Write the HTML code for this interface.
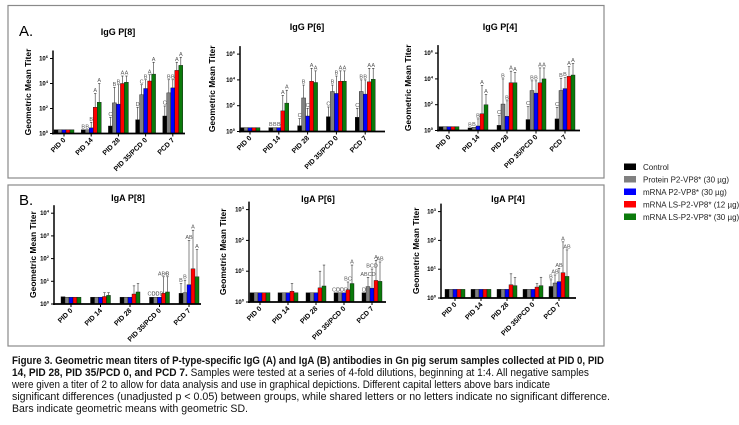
<!DOCTYPE html>
<html><head><meta charset="utf-8">
<style>
html,body{margin:0;padding:0;background:#fff;}
svg{display:block;font-family:"Liberation Sans",sans-serif;}
</style></head>
<body>
<svg id="fig" width="739" height="425" viewBox="0 0 739 425" xmlns="http://www.w3.org/2000/svg">
<rect x="8" y="5.5" width="596" height="172.5" fill="none" stroke="#8a8a8a" stroke-width="1.2"/>
<rect x="8" y="185" width="596" height="161" fill="none" stroke="#8a8a8a" stroke-width="1.2"/>
<text x="19" y="36" font-size="15">A.</text>
<text x="19" y="205" font-size="15">B.</text>
<g id="charts"></g>
<g font-size="8" fill="#222">
<rect x="624" y="163.5" width="12" height="6.5" fill="#000"/>
<text x="643" y="170">Control</text>
<rect x="624" y="176" width="12" height="6.5" fill="#808080"/>
<text x="643" y="182.5">Protein P2-VP8* (30 µg)</text>
<rect x="624" y="188.5" width="12" height="6.5" fill="#0000ff"/>
<text x="643" y="195">mRNA P2-VP8* (30 µg)</text>
<rect x="624" y="201" width="12" height="6.5" fill="#ff0000"/>
<text x="643" y="207.5">mRNA LS-P2-VP8* (12 µg)</text>
<rect x="624" y="213.5" width="12" height="6.5" fill="#0b7a0b"/>
<text x="643" y="220">mRNA LS-P2-VP8* (30 µg)</text>
</g>
<g font-size="11" fill="#111">
<text x="12" y="364" textLength="592" lengthAdjust="spacingAndGlyphs"><tspan font-weight="bold">Figure 3. Geometric mean titers of P-type-specific IgG (A) and IgA (B) antibodies in Gn pig serum samples collected at PID 0, PID</tspan></text>
<text x="12" y="376" textLength="577" lengthAdjust="spacingAndGlyphs"><tspan font-weight="bold">14, PID 28, PID 35/PCD 0, and PCD 7.</tspan> Samples were tested at a series of 4-fold dilutions, beginning at 1:4. All negative samples</text>
<text x="12" y="388" textLength="538" lengthAdjust="spacingAndGlyphs">were given a titer of 2 to allow for data analysis and use in graphical depictions. Different capital letters above bars indicate</text>
<text x="12" y="400" textLength="598" lengthAdjust="spacingAndGlyphs">significant differences (unadjusted p &lt; 0.05) between groups, while shared letters or no letters indicate no significant difference.</text>
<text x="12" y="412" textLength="236" lengthAdjust="spacingAndGlyphs">Bars indicate geometric means with geometric SD.</text>
</g>
</svg>
<script>
// ---- data (log10 of titer) ----
const categories = ["PID 0","PID 14","PID 28","PID 35/PCD 0","PCD 7"];
const seriesNames = ["Control","Protein P2-VP8* (30 µg)","mRNA P2-VP8* (30 µg)","mRNA LS-P2-VP8* (12 µg)","mRNA LS-P2-VP8* (30 µg)"];
const seriesColors = ["#000000","#808080","#0000ff","#ff0000","#0b7a0b"];

const iggP8Means = [[0.3,0.3,0.3,0.3,0.3],[0.3,0.3,0.45,2.1,2.5],[0.6,2.45,2.35,4.0,4.1],[1.1,3.1,3.6,4.2,4.75],[1.4,3.25,3.65,5.05,5.45]];
const iggP8Errs  = [[0.3,0.3,0.3,0.3,0.3],[0.3,0.3,0.9,3.2,4.0],[1.3,3.7,3.9,4.6,4.6],[2.1,3.9,4.3,4.7,5.7],[2.2,4.3,4.3,5.7,6.1]];
const iggP8Letters = [["","","","",""],["B","B","B","A","A"],["C","B","B","A","A"],["D","C","B","A","A"],["C","B","B","A","A"]];

const iggP6Means = [[0.3,0.3,0.3,0.3,0.3],[0.3,0.3,0.3,1.6,2.2],[0.45,2.6,1.2,3.9,3.8],[1.15,3.1,2.95,3.9,3.9],[1.1,3.1,2.9,3.85,4.05]];
const iggP6Errs  = [[0.3,0.3,0.3,0.3,0.3],[0.3,0.3,0.3,2.8,3.2],[1.0,3.6,1.8,4.9,4.7],[1.9,3.6,4.3,4.7,4.7],[1.8,4.0,4.0,4.9,4.9]];
const iggP6Letters = [["","","","",""],["B","B","B","A","A"],["C","B","C","A","A"],["C","B","B","A","A"],["C","B","B","A","A"]];

const iggP4Means = [[0.3,0.3,0.3,0.3,0.3],[0.2,0.25,0.35,1.3,2.0],[0.4,2.05,1.1,3.7,3.7],[0.85,3.1,2.9,3.7,4.0],[0.9,3.1,3.25,4.2,4.3]];
const iggP4Errs  = [[0.3,0.3,0.3,0.3,0.3],[0.2,0.25,0.9,3.5,2.8],[1.15,4.0,2.3,4.6,4.5],[1.85,3.85,3.85,4.85,4.85],[1.8,4.05,4.1,4.95,5.2]];
const iggP4Letters = [["","","","",""],["B","B","B","A","A"],["C","B","B","A","A"],["C","B","B","A","A"],["C","B","B","A","A"]];

const igaP8Means = [[0.32,0.3,0.3,0.3,0.3],[0.3,0.3,0.3,0.33,0.38],[0.3,0.3,0.3,0.44,0.53],[0.3,0.3,0.3,0.47,0.53],[0.47,0.5,0.85,1.55,1.2]];
const igaP8Errs  = [[0.32,0.3,0.3,0.3,0.3],[0.3,0.3,0.3,0.5,0.5],[0.3,0.3,0.3,0.8,0.9],[0.3,0.3,0.3,1.2,1.2],[0.9,1.05,2.8,3.25,2.4]];
const igaP8Letters = [["","","","",""],["","","","",""],["","","","",""],["CD","CD","CD","ABC","B"],["B","B","AB","A","A"]];

const igaP6Means = [[0.3,0.3,0.3,0.3,0.3],[0.3,0.3,0.3,0.35,0.3],[0.3,0.3,0.3,0.46,0.52],[0.3,0.3,0.3,0.4,0.6],[0.3,0.5,0.45,0.7,0.67]];
const igaP6Errs  = [[0.3,0.3,0.3,0.3,0.3],[0.3,0.3,0.3,0.6,0.3],[0.3,0.3,0.3,1.0,1.2],[0.3,0.3,0.3,0.65,1.2],[0.3,0.8,1.07,1.35,1.3]];
const igaP6Letters = [["","","","",""],["","","","",""],["","","","",""],["CD","CD","CD","BC","A"],["D","ABCD","BCD","A","AB"]];

const igaP4Means = [[0.3,0.3,0.3,0.3,0.3],[0.3,0.3,0.3,0.3,0.3],[0.3,0.3,0.3,0.46,0.43],[0.3,0.3,0.3,0.38,0.43],[0.4,0.52,0.57,0.88,0.75]];
const igaP4Errs  = [[0.3,0.3,0.3,0.3,0.3],[0.3,0.3,0.3,0.3,0.3],[0.3,0.3,0.3,0.84,0.71],[0.3,0.3,0.3,0.5,0.72],[0.63,0.8,1.03,1.95,1.67]];
const igaP4Letters = [["","","","",""],["","","","",""],["","","","",""],["","","","",""],["B","AB","AB","A","AB"]];

const iggTicks = [0,2,4,6];
const igaP8Ticks = [0,1,2,3,4];
const igaSmallTicks = [0,1,2,3];

const NS = "http://www.w3.org/2000/svg";
function mk(tag, attrs, parent){
  const e = document.createElementNS(NS, tag);
  for (const k in attrs) e.setAttribute(k, attrs[k]);
  parent.appendChild(e);
  return e;
}

function drawChart(cfg, means, errs, letters, ticks){
  const root = document.getElementById('charts');
  const g = mk('g', {}, root);
  
  
  const y = v => cfg.base - v * cfg.ppd;
  const top = y(ticks[ticks.length-1]) - 8;
  const t = mk('text', {x: cfg.titleX, y: cfg.titleY, 'font-size': 9, 'font-weight': 'bold', 'text-anchor': 'middle'}, g);
  t.textContent = cfg.title;
  
  
  const yt = mk('text', {x: 0, y: 0, 'font-size': 8.5, 'font-weight': 'bold', 'text-anchor': 'middle',
    transform: `translate(${cfg.ytX},${(top+cfg.base)/2}) rotate(-90)`}, g);
  yt.textContent = 'Geometric Mean Titer';
  
  
  const bw = 4;
  for (let i = 0; i < categories.length; i++){
    const cx = cfg.x0 + cfg.first + cfg.step * i;
    for (let s = 0; s < 5; s++){
      const bx = cx - 2.5*bw + s*bw;
      const v = means[i][s], ev = errs[i][s];
      const by = y(v);
      const r = mk('rect', {x: bx, y: by, width: bw, height: Math.max(cfg.base - by, 0.5),
        fill: seriesColors[s], stroke: '#111', 'stroke-width': 0.4}, g);
      
      
      const ey = y(ev);
      if (ev > v + 0.02){
        const l = mk('line', {x1: bx+bw/2, x2: bx+bw/2, y1: by, y2: ey, stroke: '#333', 'stroke-width': 0.6}, g);
        
        
        const c = mk('line', {x1: bx+bw/2-1.2, x2: bx+bw/2+1.2, y1: ey, y2: ey, stroke: '#333', 'stroke-width': 0.6}, g);
        
        
      }
      const lt = letters[i][s];
      if (lt){
        const tx = mk('text', {x: bx+bw/2, y: ey - 1.5, 'font-size': 5.5, 'text-anchor': 'middle', fill: '#555'}, g);
        tx.textContent = lt;
        
        
      }
    }
    const tk = mk('line', {x1: cx, x2: cx, y1: cfg.base, y2: cfg.base+3, stroke: '#000', 'stroke-width': 1}, g);
    
    
    const xl = mk('text', {x: 0, y: 0, 'font-size': 7, 'font-weight': 'bold', 'text-anchor': 'end',
      transform: `translate(${cx+2},${cfg.base+7}) rotate(-45)`}, g);
    xl.textContent = categories[i];
    
    
  }
  const ya = mk('line', {x1: cfg.x0, x2: cfg.x0, y1: top, y2: cfg.base+1, stroke: '#000', 'stroke-width': 1.5}, g);
  
  
  const xa = mk('line', {x1: cfg.x0-1, x2: cfg.x1, y1: cfg.base, y2: cfg.base, stroke: '#000', 'stroke-width': 1.8}, g);
  
  
  ticks.forEach(tv => {
    const ty = y(tv);
    const tl = mk('line', {x1: cfg.x0-3, x2: cfg.x0, y1: ty, y2: ty, stroke: '#000', 'stroke-width': 1}, g);
    
    
    const lab = mk('text', {x: cfg.x0-5, y: ty+2, 'font-size': 6, 'font-weight': 'bold', 'text-anchor': 'end'}, g);
    lab.textContent = '10';
    const sup = mk('tspan', {dy: -2.5, 'font-size': 4}, lab);
    sup.textContent = String(tv);
    
    
  });
}

drawChart({name:'chart-igg-p8', title:'IgG P[8]', titleX:118, titleY:35, ytX:31, x0:53, x1:185, first:11, step:27.2, base:133.5, ppd:12.5}, iggP8Means, iggP8Errs, iggP8Letters, iggTicks);
drawChart({name:'chart-igg-p6', title:'IgG P[6]', titleX:307, titleY:30, ytX:215, x0:240, x1:385, first:10, step:28.8, base:131.5, ppd:12.9}, iggP6Means, iggP6Errs, iggP6Letters, iggTicks);
drawChart({name:'chart-igg-p4', title:'IgG P[4]', titleX:500, titleY:30, ytX:411, x0:438, x1:580, first:11, step:29, base:130.5, ppd:12.9}, iggP4Means, iggP4Errs, iggP4Letters, iggTicks);
drawChart({name:'chart-iga-p8', title:'IgA P[8]', titleX:128, titleY:201, ytX:36, x0:54, x1:201, first:17, step:29.5, base:304, ppd:22.7}, igaP8Means, igaP8Errs, igaP8Letters, igaP8Ticks);
drawChart({name:'chart-iga-p6', title:'IgA P[6]', titleX:318, titleY:202, ytX:226, x0:249, x1:386, first:11, step:28, base:302, ppd:30.8}, igaP6Means, igaP6Errs, igaP6Letters, igaSmallTicks);
drawChart({name:'chart-iga-p4', title:'IgA P[4]', titleX:508, titleY:202, ytX:419, x0:441, x1:576, first:14, step:26, base:298, ppd:28.8}, igaP4Means, igaP4Errs, igaP4Letters, igaSmallTicks);
</script>
</body></html>
